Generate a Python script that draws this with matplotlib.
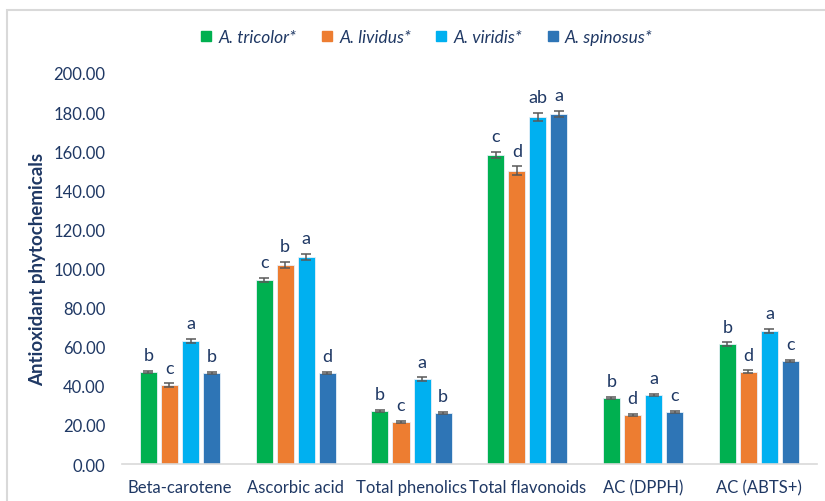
import matplotlib
matplotlib.use("Agg")
import matplotlib.pyplot as plt
import numpy as np
from matplotlib.patches import Rectangle
from matplotlib.lines import Line2D

categories = ["Beta-carotene", "Ascorbic acid", "Total phenolics",
              "Total flavonoids", "AC (DPPH)", "AC (ABTS+)"]
species = ["A. tricolor*", "A. lividus*", "A. viridis*", "A. spinosus*"]

tricolor = [47.1, 94.1, 27.1, 158.0, 33.8, 61.4]
lividus = [40.4, 101.8, 21.5, 150.0, 25.1, 47.1]
viridis = [62.9, 105.9, 43.5, 177.5, 35.3, 68.0]
spinosus = [46.5, 46.5, 26.1, 179.0, 26.6, 52.7]

tricolor_err = [0.6, 1.0, 0.4, 1.5, 0.5, 0.8]
lividus_err = [0.8, 1.5, 0.4, 2.2, 0.5, 0.8]
viridis_err = [1.0, 1.5, 0.8, 2.2, 0.7, 1.2]
spinosus_err = [0.5, 0.5, 0.4, 1.5, 0.4, 0.5]

tricolor_sig = ["b", "c", "b", "c", "b", "b"]
lividus_sig = ["c", "b", "c", "d", "d", "d"]
viridis_sig = ["a", "a", "a", "ab", "a", "a"]
spinosus_sig = ["b", "d", "b", "a", "c", "c"]

values = [tricolor, lividus, viridis, spinosus]
errors = [tricolor_err, lividus_err, viridis_err, spinosus_err]
letters = [tricolor_sig, lividus_sig, viridis_sig, spinosus_sig]
colors = ["#00B050", "#ED7D31", "#00B0F0", "#2E75B6"]

navy = "#1F3864"
font = ["Lato", "DejaVu Sans"]
plt.rcParams["font.family"] = font

fig = plt.figure(figsize=(8.25, 5.02), dpi=100)
ax = fig.add_axes([0.148, 0.0737, 0.842, 0.779])

x = np.arange(len(categories))
width = 0.148
step = 0.182
for i, (vals, errs, sig, col, name) in enumerate(zip(values, errors, letters, colors, species)):
    pos = x + (i - 1.5) * step
    ax.bar(pos, vals, width, color=col, edgecolor="#E8F0F8", linewidth=0.6,
           label=name, zorder=2)
    ax.errorbar(pos, vals, yerr=errs, fmt="none", ecolor="#595959",
                elinewidth=1.1, capsize=3.5, capthick=1.1, zorder=3)
    for p, v, e, s in zip(pos, vals, errs, sig):
        ax.text(p, v + e + 4, s, ha="center", va="bottom", fontsize=13,
                color=navy)

ax.set_xlim(-0.5, len(categories) - 0.5)
ax.set_ylim(0, 200)
ax.set_yticks(np.arange(0, 201, 20))
ax.set_yticklabels([f"{t:.2f}" for t in np.arange(0, 201, 20)])
ax.set_xticks(x)
ax.set_xticklabels(categories)
ax.tick_params(axis="both", length=0, labelsize=12, labelcolor=navy)
ax.tick_params(axis="y", pad=12)
ax.tick_params(axis="x", pad=11)
for side in ["top", "right", "left"]:
    ax.spines[side].set_visible(False)
ax.spines["bottom"].set_color("#D9D9D9")
ax.spines["bottom"].set_linewidth(1.2)

ax.set_ylabel("Antioxidant phytochemicals", fontsize=13.5, fontweight="bold",
              color=navy, labelpad=5)

# square swatches for the legend
handles = [Line2D([], [], marker="s", linestyle="none", markersize=7.5,
                  markerfacecolor=c, markeredgecolor=c) for c in colors]
leg = fig.legend(handles, species, loc="center", bbox_to_anchor=(0.518, 0.925),
                 ncol=4, frameon=False, handlelength=0.5, handletextpad=0.45,
                 columnspacing=1.5,
                 prop={"family": font, "style": "italic", "size": 12.5})
for t in leg.get_texts():
    t.set_color(navy)

# light frame around the chart area
fig.patches.append(Rectangle((7 / 825, -0.05), 1.0, 1 - 11 / 502 + 0.05,
                             transform=fig.transFigure, fill=False,
                             edgecolor="#D9D9D9", linewidth=1.5))

fig.savefig("out.png", dpi=100)
